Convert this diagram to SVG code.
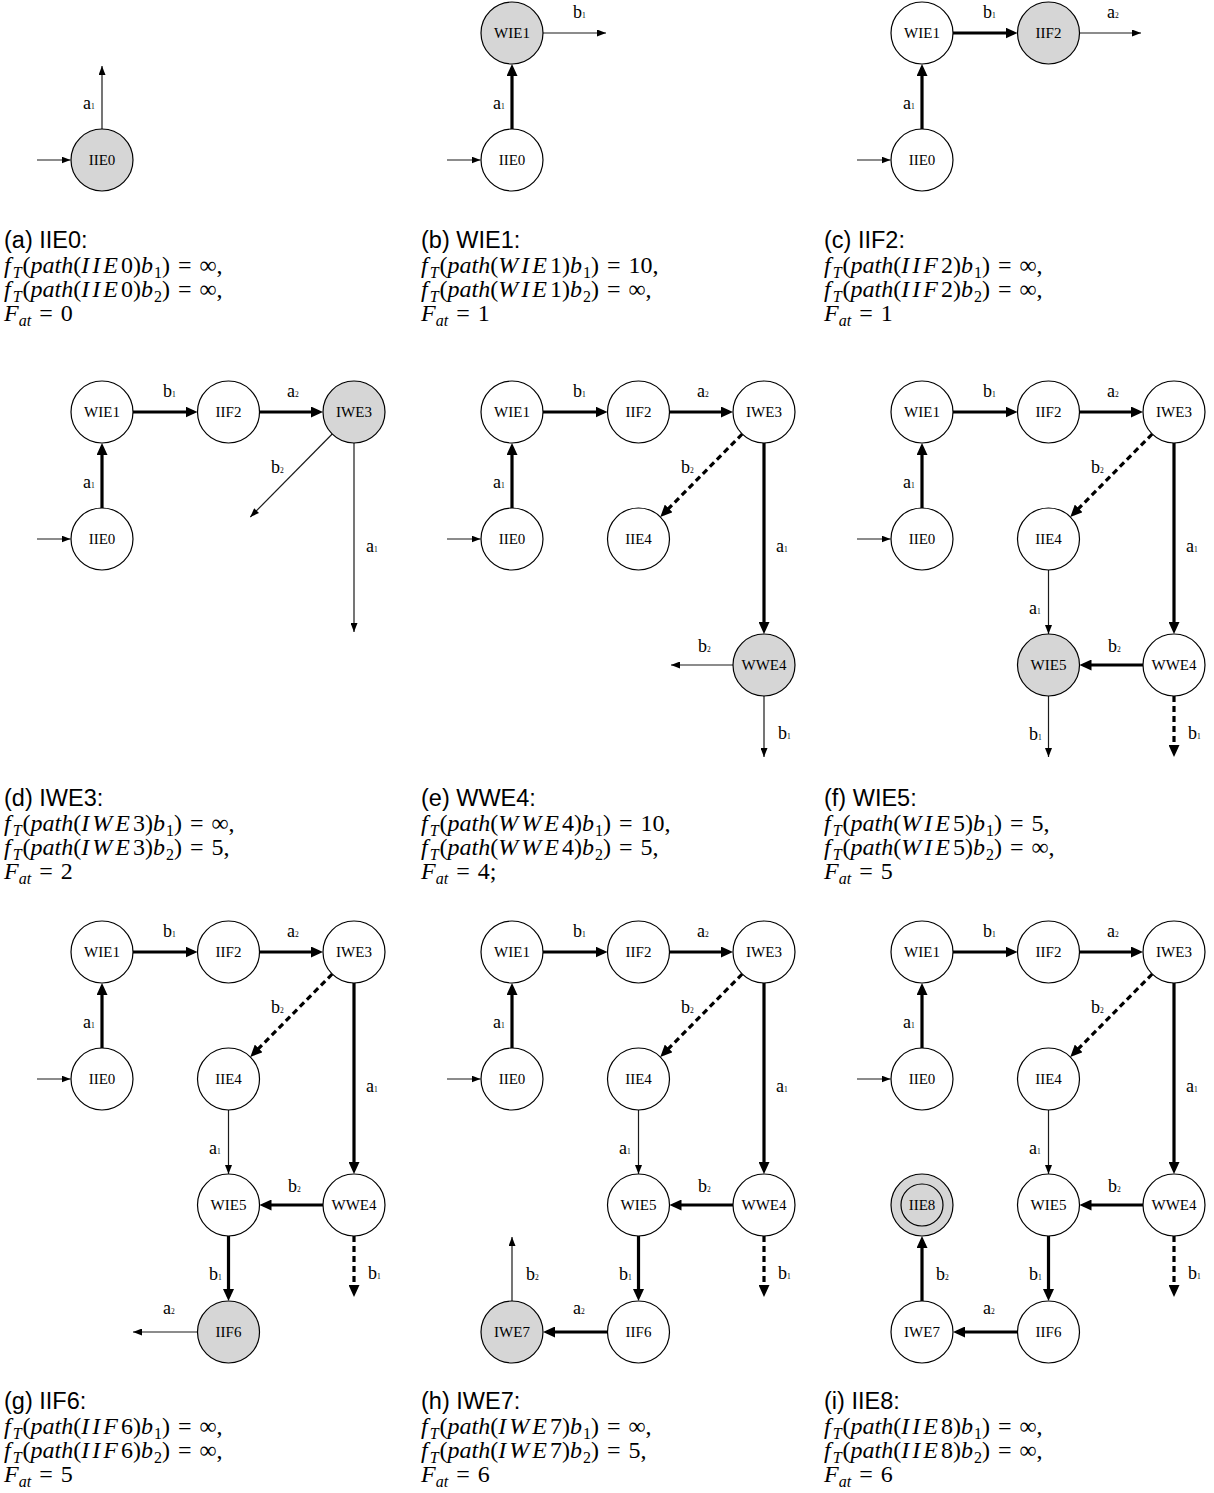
<svg xmlns="http://www.w3.org/2000/svg" width="1214" height="1493" viewBox="0 0 1214 1493">
<style>
.nd circle{fill:#fff;stroke:#000;stroke-width:1.2}
.nd.cur circle{fill:#d6d6d6}
.nt{font-family:"Liberation Serif",serif;font-size:15px;text-anchor:middle;fill:#000}
.e{fill:none;stroke:#1a1a1a;stroke-width:1.2;marker-end:url(#ah)}
.E{fill:none;stroke:#000;stroke-width:3.2;marker-end:url(#ahT)}
.d{stroke-dasharray:6 4}
.lbl{font-family:"Liberation Serif",serif;font-size:18px;fill:#000}
.sub{font-size:7.5px}
.cap{font-family:"Liberation Sans",Arial,sans-serif;font-size:23.5px;fill:#000}
.m{font-family:"Liberation Serif",serif;font-size:24px;fill:#000}
.i{font-style:italic}
.s{font-size:16px}
.v{letter-spacing:3px}
</style>
<defs>
<marker id="ah" markerUnits="userSpaceOnUse" markerWidth="9" markerHeight="7" refX="9" refY="3.5" orient="auto"><path d="M0,0 L9,3.5 L0,7 z" fill="#000"/></marker>
<marker id="ahT" markerUnits="userSpaceOnUse" markerWidth="12" markerHeight="11" refX="8" refY="5.5" orient="auto"><path d="M0,0 L12,5.5 L0,11 z" fill="#000"/></marker>
</defs>

<!-- Panel a -->
<g id="panel-a">
<g transform="translate(0,0)">
<g id="a-connectors">
<path class="e" d="M37,160 H70.5"/>
<path class="e" d="M102,129 V66"/>
<text class="lbl" x="83" y="109">a<tspan class="sub">1</tspan></text>
</g>
<g id="a-IIE0" class="nd cur"><circle cx="102" cy="160" r="31"/><text class="nt" x="102" y="165">IIE0</text></g>
</g>
<g id="a-caption">
<text class="cap" x="4" y="248">(a) IIE0:</text>
<text class="m" x="4" y="273"><tspan class="i">f</tspan><tspan class="i s" dx="2" dy="5">T</tspan><tspan dx="1" dy="-5">(</tspan><tspan class="i">path</tspan>(<tspan class="i v">IIE</tspan>0)<tspan class="i">b</tspan><tspan class="s" dx="1" dy="5">1</tspan><tspan dy="-5">)</tspan> <tspan dx="2">=</tspan> <tspan dx="2">∞,</tspan></text>
<text class="m" x="4" y="297"><tspan class="i">f</tspan><tspan class="i s" dx="2" dy="5">T</tspan><tspan dx="1" dy="-5">(</tspan><tspan class="i">path</tspan>(<tspan class="i v">IIE</tspan>0)<tspan class="i">b</tspan><tspan class="s" dx="1" dy="5">2</tspan><tspan dy="-5">)</tspan> <tspan dx="2">=</tspan> <tspan dx="2">∞,</tspan></text>
<text class="m" x="4" y="321"><tspan class="i">F</tspan><tspan class="i s" dy="5">at</tspan><tspan dy="-5"> </tspan><tspan dx="2">=</tspan> <tspan dx="2">0</tspan></text>
</g>
</g>

<!-- Panel b -->
<g id="panel-b">
<g transform="translate(410,0)">
<g id="b-connectors">
<path class="e" d="M37,160 H70.5"/>
<path class="E" d="M102,129 V68"/>
<path class="e" d="M133,33 H196"/>
<text class="lbl" x="83" y="109">a<tspan class="sub">1</tspan></text>
<text class="lbl" x="163" y="18">b<tspan class="sub">1</tspan></text>
</g>
<g id="b-IIE0" class="nd"><circle cx="102" cy="160" r="31"/><text class="nt" x="102" y="165">IIE0</text></g>
<g id="b-WIE1" class="nd cur"><circle cx="102" cy="33" r="31"/><text class="nt" x="102" y="38">WIE1</text></g>
</g>
<g id="b-caption">
<text class="cap" x="421" y="248">(b) WIE1:</text>
<text class="m" x="421" y="273"><tspan class="i">f</tspan><tspan class="i s" dx="2" dy="5">T</tspan><tspan dx="1" dy="-5">(</tspan><tspan class="i">path</tspan>(<tspan class="i v">WIE</tspan>1)<tspan class="i">b</tspan><tspan class="s" dx="1" dy="5">1</tspan><tspan dy="-5">)</tspan> <tspan dx="2">=</tspan> <tspan dx="2">10,</tspan></text>
<text class="m" x="421" y="297"><tspan class="i">f</tspan><tspan class="i s" dx="2" dy="5">T</tspan><tspan dx="1" dy="-5">(</tspan><tspan class="i">path</tspan>(<tspan class="i v">WIE</tspan>1)<tspan class="i">b</tspan><tspan class="s" dx="1" dy="5">2</tspan><tspan dy="-5">)</tspan> <tspan dx="2">=</tspan> <tspan dx="2">∞,</tspan></text>
<text class="m" x="421" y="321"><tspan class="i">F</tspan><tspan class="i s" dy="5">at</tspan><tspan dy="-5"> </tspan><tspan dx="2">=</tspan> <tspan dx="2">1</tspan></text>
</g>
</g>

<!-- Panel c -->
<g id="panel-c">
<g transform="translate(820,0)">
<g id="c-connectors">
<path class="e" d="M37,160 H70.5"/>
<path class="E" d="M102,129 V68"/>
<path class="E" d="M133,33 H193.5"/>
<path class="e" d="M259.5,33 H321"/>
<text class="lbl" x="83" y="109">a<tspan class="sub">1</tspan></text>
<text class="lbl" x="163" y="18">b<tspan class="sub">1</tspan></text>
<text class="lbl" x="287" y="18">a<tspan class="sub">2</tspan></text>
</g>
<g id="c-IIE0" class="nd"><circle cx="102" cy="160" r="31"/><text class="nt" x="102" y="165">IIE0</text></g>
<g id="c-WIE1" class="nd"><circle cx="102" cy="33" r="31"/><text class="nt" x="102" y="38">WIE1</text></g>
<g id="c-IIF2" class="nd cur"><circle cx="228.5" cy="33" r="31"/><text class="nt" x="228.5" y="38">IIF2</text></g>
</g>
<g id="c-caption">
<text class="cap" x="824" y="248">(c) IIF2:</text>
<text class="m" x="824" y="273"><tspan class="i">f</tspan><tspan class="i s" dx="2" dy="5">T</tspan><tspan dx="1" dy="-5">(</tspan><tspan class="i">path</tspan>(<tspan class="i v">IIF</tspan>2)<tspan class="i">b</tspan><tspan class="s" dx="1" dy="5">1</tspan><tspan dy="-5">)</tspan> <tspan dx="2">=</tspan> <tspan dx="2">∞,</tspan></text>
<text class="m" x="824" y="297"><tspan class="i">f</tspan><tspan class="i s" dx="2" dy="5">T</tspan><tspan dx="1" dy="-5">(</tspan><tspan class="i">path</tspan>(<tspan class="i v">IIF</tspan>2)<tspan class="i">b</tspan><tspan class="s" dx="1" dy="5">2</tspan><tspan dy="-5">)</tspan> <tspan dx="2">=</tspan> <tspan dx="2">∞,</tspan></text>
<text class="m" x="824" y="321"><tspan class="i">F</tspan><tspan class="i s" dy="5">at</tspan><tspan dy="-5"> </tspan><tspan dx="2">=</tspan> <tspan dx="2">1</tspan></text>
</g>
</g>

<!-- Panel d -->
<g id="panel-d">
<g transform="translate(0,379)">
<g id="d-connectors">
<path class="e" d="M37,160 H70.5"/>
<path class="E" d="M102,129 V68"/>
<path class="E" d="M133,33 H193.5"/>
<path class="E" d="M259.5,33 H319"/>
<path class="e" d="M332.2,55 L250.3,138"/>
<path class="e" d="M354,64 V253"/>
<text class="lbl" x="83" y="109">a<tspan class="sub">1</tspan></text>
<text class="lbl" x="163" y="18">b<tspan class="sub">1</tspan></text>
<text class="lbl" x="287" y="18">a<tspan class="sub">2</tspan></text>
<text class="lbl" x="271" y="94">b<tspan class="sub">2</tspan></text>
<text class="lbl" x="366" y="173">a<tspan class="sub">1</tspan></text>
</g>
<g id="d-IIE0" class="nd"><circle cx="102" cy="160" r="31"/><text class="nt" x="102" y="165">IIE0</text></g>
<g id="d-WIE1" class="nd"><circle cx="102" cy="33" r="31"/><text class="nt" x="102" y="38">WIE1</text></g>
<g id="d-IIF2" class="nd"><circle cx="228.5" cy="33" r="31"/><text class="nt" x="228.5" y="38">IIF2</text></g>
<g id="d-IWE3" class="nd cur"><circle cx="354" cy="33" r="31"/><text class="nt" x="354" y="38">IWE3</text></g>
</g>
<g id="d-caption">
<text class="cap" x="4" y="806">(d) IWE3:</text>
<text class="m" x="4" y="831"><tspan class="i">f</tspan><tspan class="i s" dx="2" dy="5">T</tspan><tspan dx="1" dy="-5">(</tspan><tspan class="i">path</tspan>(<tspan class="i v">IWE</tspan>3)<tspan class="i">b</tspan><tspan class="s" dx="1" dy="5">1</tspan><tspan dy="-5">)</tspan> <tspan dx="2">=</tspan> <tspan dx="2">∞,</tspan></text>
<text class="m" x="4" y="855"><tspan class="i">f</tspan><tspan class="i s" dx="2" dy="5">T</tspan><tspan dx="1" dy="-5">(</tspan><tspan class="i">path</tspan>(<tspan class="i v">IWE</tspan>3)<tspan class="i">b</tspan><tspan class="s" dx="1" dy="5">2</tspan><tspan dy="-5">)</tspan> <tspan dx="2">=</tspan> <tspan dx="2">5,</tspan></text>
<text class="m" x="4" y="879"><tspan class="i">F</tspan><tspan class="i s" dy="5">at</tspan><tspan dy="-5"> </tspan><tspan dx="2">=</tspan> <tspan dx="2">2</tspan></text>
</g>
</g>

<!-- Panel e -->
<g id="panel-e">
<g transform="translate(410,379)">
<g id="e-connectors">
<path class="e" d="M37,160 H70.5"/>
<path class="E" d="M102,129 V68"/>
<path class="E" d="M133,33 H193.5"/>
<path class="E" d="M259.5,33 H319"/>
<path class="E d" d="M332.2,55 L253.1,135.1"/>
<path class="E" d="M354,64 V251"/>
<path class="e" d="M323,286 H261"/>
<path class="e" d="M354,317 V378"/>
<text class="lbl" x="83" y="109">a<tspan class="sub">1</tspan></text>
<text class="lbl" x="163" y="18">b<tspan class="sub">1</tspan></text>
<text class="lbl" x="287" y="18">a<tspan class="sub">2</tspan></text>
<text class="lbl" x="271" y="94">b<tspan class="sub">2</tspan></text>
<text class="lbl" x="366" y="173">a<tspan class="sub">1</tspan></text>
<text class="lbl" x="288" y="273">b<tspan class="sub">2</tspan></text>
<text class="lbl" x="368" y="360">b<tspan class="sub">1</tspan></text>
</g>
<g id="e-IIE0" class="nd"><circle cx="102" cy="160" r="31"/><text class="nt" x="102" y="165">IIE0</text></g>
<g id="e-WIE1" class="nd"><circle cx="102" cy="33" r="31"/><text class="nt" x="102" y="38">WIE1</text></g>
<g id="e-IIF2" class="nd"><circle cx="228.5" cy="33" r="31"/><text class="nt" x="228.5" y="38">IIF2</text></g>
<g id="e-IWE3" class="nd"><circle cx="354" cy="33" r="31"/><text class="nt" x="354" y="38">IWE3</text></g>
<g id="e-IIE4" class="nd"><circle cx="228.5" cy="160" r="31"/><text class="nt" x="228.5" y="165">IIE4</text></g>
<g id="e-WWE4" class="nd cur"><circle cx="354" cy="286" r="31"/><text class="nt" x="354" y="291">WWE4</text></g>
</g>
<g id="e-caption">
<text class="cap" x="421" y="806">(e) WWE4:</text>
<text class="m" x="421" y="831"><tspan class="i">f</tspan><tspan class="i s" dx="2" dy="5">T</tspan><tspan dx="1" dy="-5">(</tspan><tspan class="i">path</tspan>(<tspan class="i v">WWE</tspan>4)<tspan class="i">b</tspan><tspan class="s" dx="1" dy="5">1</tspan><tspan dy="-5">)</tspan> <tspan dx="2">=</tspan> <tspan dx="2">10,</tspan></text>
<text class="m" x="421" y="855"><tspan class="i">f</tspan><tspan class="i s" dx="2" dy="5">T</tspan><tspan dx="1" dy="-5">(</tspan><tspan class="i">path</tspan>(<tspan class="i v">WWE</tspan>4)<tspan class="i">b</tspan><tspan class="s" dx="1" dy="5">2</tspan><tspan dy="-5">)</tspan> <tspan dx="2">=</tspan> <tspan dx="2">5,</tspan></text>
<text class="m" x="421" y="879"><tspan class="i">F</tspan><tspan class="i s" dy="5">at</tspan><tspan dy="-5"> </tspan><tspan dx="2">=</tspan> <tspan dx="2">4;</tspan></text>
</g>
</g>

<!-- Panel f -->
<g id="panel-f">
<g transform="translate(820,379)">
<g id="f-connectors">
<path class="e" d="M37,160 H70.5"/>
<path class="E" d="M102,129 V68"/>
<path class="E" d="M133,33 H193.5"/>
<path class="E" d="M259.5,33 H319"/>
<path class="E d" d="M332.2,55 L253.1,135.1"/>
<path class="E" d="M354,64 V251"/>
<path class="e" d="M228.5,191 V255"/>
<path class="E" d="M323,286 H263.5"/>
<path class="E d" d="M354,317 V374"/>
<path class="e" d="M228.5,317 V378"/>
<text class="lbl" x="83" y="109">a<tspan class="sub">1</tspan></text>
<text class="lbl" x="163" y="18">b<tspan class="sub">1</tspan></text>
<text class="lbl" x="287" y="18">a<tspan class="sub">2</tspan></text>
<text class="lbl" x="271" y="94">b<tspan class="sub">2</tspan></text>
<text class="lbl" x="366" y="173">a<tspan class="sub">1</tspan></text>
<text class="lbl" x="209" y="235">a<tspan class="sub">1</tspan></text>
<text class="lbl" x="288" y="273">b<tspan class="sub">2</tspan></text>
<text class="lbl" x="368" y="360">b<tspan class="sub">1</tspan></text>
<text class="lbl" x="209" y="361">b<tspan class="sub">1</tspan></text>
</g>
<g id="f-IIE0" class="nd"><circle cx="102" cy="160" r="31"/><text class="nt" x="102" y="165">IIE0</text></g>
<g id="f-WIE1" class="nd"><circle cx="102" cy="33" r="31"/><text class="nt" x="102" y="38">WIE1</text></g>
<g id="f-IIF2" class="nd"><circle cx="228.5" cy="33" r="31"/><text class="nt" x="228.5" y="38">IIF2</text></g>
<g id="f-IWE3" class="nd"><circle cx="354" cy="33" r="31"/><text class="nt" x="354" y="38">IWE3</text></g>
<g id="f-IIE4" class="nd"><circle cx="228.5" cy="160" r="31"/><text class="nt" x="228.5" y="165">IIE4</text></g>
<g id="f-WWE4" class="nd"><circle cx="354" cy="286" r="31"/><text class="nt" x="354" y="291">WWE4</text></g>
<g id="f-WIE5" class="nd cur"><circle cx="228.5" cy="286" r="31"/><text class="nt" x="228.5" y="291">WIE5</text></g>
</g>
<g id="f-caption">
<text class="cap" x="824" y="806">(f) WIE5:</text>
<text class="m" x="824" y="831"><tspan class="i">f</tspan><tspan class="i s" dx="2" dy="5">T</tspan><tspan dx="1" dy="-5">(</tspan><tspan class="i">path</tspan>(<tspan class="i v">WIE</tspan>5)<tspan class="i">b</tspan><tspan class="s" dx="1" dy="5">1</tspan><tspan dy="-5">)</tspan> <tspan dx="2">=</tspan> <tspan dx="2">5,</tspan></text>
<text class="m" x="824" y="855"><tspan class="i">f</tspan><tspan class="i s" dx="2" dy="5">T</tspan><tspan dx="1" dy="-5">(</tspan><tspan class="i">path</tspan>(<tspan class="i v">WIE</tspan>5)<tspan class="i">b</tspan><tspan class="s" dx="1" dy="5">2</tspan><tspan dy="-5">)</tspan> <tspan dx="2">=</tspan> <tspan dx="2">∞,</tspan></text>
<text class="m" x="824" y="879"><tspan class="i">F</tspan><tspan class="i s" dy="5">at</tspan><tspan dy="-5"> </tspan><tspan dx="2">=</tspan> <tspan dx="2">5</tspan></text>
</g>
</g>

<!-- Panel g -->
<g id="panel-g">
<g transform="translate(0,919)">
<g id="g-connectors">
<path class="e" d="M37,160 H70.5"/>
<path class="E" d="M102,129 V68"/>
<path class="E" d="M133,33 H193.5"/>
<path class="E" d="M259.5,33 H319"/>
<path class="E d" d="M332.2,55 L253.1,135.1"/>
<path class="E" d="M354,64 V251"/>
<path class="e" d="M228.5,191 V255"/>
<path class="E" d="M323,286 H263.5"/>
<path class="E d" d="M354,317 V374"/>
<path class="E" d="M228.5,317 V378"/>
<path class="e" d="M197.5,413 H133"/>
<text class="lbl" x="83" y="109">a<tspan class="sub">1</tspan></text>
<text class="lbl" x="163" y="18">b<tspan class="sub">1</tspan></text>
<text class="lbl" x="287" y="18">a<tspan class="sub">2</tspan></text>
<text class="lbl" x="271" y="94">b<tspan class="sub">2</tspan></text>
<text class="lbl" x="366" y="173">a<tspan class="sub">1</tspan></text>
<text class="lbl" x="209" y="235">a<tspan class="sub">1</tspan></text>
<text class="lbl" x="288" y="273">b<tspan class="sub">2</tspan></text>
<text class="lbl" x="368" y="360">b<tspan class="sub">1</tspan></text>
<text class="lbl" x="209" y="361">b<tspan class="sub">1</tspan></text>
<text class="lbl" x="163" y="395">a<tspan class="sub">2</tspan></text>
</g>
<g id="g-IIE0" class="nd"><circle cx="102" cy="160" r="31"/><text class="nt" x="102" y="165">IIE0</text></g>
<g id="g-WIE1" class="nd"><circle cx="102" cy="33" r="31"/><text class="nt" x="102" y="38">WIE1</text></g>
<g id="g-IIF2" class="nd"><circle cx="228.5" cy="33" r="31"/><text class="nt" x="228.5" y="38">IIF2</text></g>
<g id="g-IWE3" class="nd"><circle cx="354" cy="33" r="31"/><text class="nt" x="354" y="38">IWE3</text></g>
<g id="g-IIE4" class="nd"><circle cx="228.5" cy="160" r="31"/><text class="nt" x="228.5" y="165">IIE4</text></g>
<g id="g-WWE4" class="nd"><circle cx="354" cy="286" r="31"/><text class="nt" x="354" y="291">WWE4</text></g>
<g id="g-WIE5" class="nd"><circle cx="228.5" cy="286" r="31"/><text class="nt" x="228.5" y="291">WIE5</text></g>
<g id="g-IIF6" class="nd cur"><circle cx="228.5" cy="413" r="31"/><text class="nt" x="228.5" y="418">IIF6</text></g>
</g>
<g id="g-caption">
<text class="cap" x="4" y="1409">(g) IIF6:</text>
<text class="m" x="4" y="1434"><tspan class="i">f</tspan><tspan class="i s" dx="2" dy="5">T</tspan><tspan dx="1" dy="-5">(</tspan><tspan class="i">path</tspan>(<tspan class="i v">IIF</tspan>6)<tspan class="i">b</tspan><tspan class="s" dx="1" dy="5">1</tspan><tspan dy="-5">)</tspan> <tspan dx="2">=</tspan> <tspan dx="2">∞,</tspan></text>
<text class="m" x="4" y="1458"><tspan class="i">f</tspan><tspan class="i s" dx="2" dy="5">T</tspan><tspan dx="1" dy="-5">(</tspan><tspan class="i">path</tspan>(<tspan class="i v">IIF</tspan>6)<tspan class="i">b</tspan><tspan class="s" dx="1" dy="5">2</tspan><tspan dy="-5">)</tspan> <tspan dx="2">=</tspan> <tspan dx="2">∞,</tspan></text>
<text class="m" x="4" y="1482"><tspan class="i">F</tspan><tspan class="i s" dy="5">at</tspan><tspan dy="-5"> </tspan><tspan dx="2">=</tspan> <tspan dx="2">5</tspan></text>
</g>
</g>

<!-- Panel h -->
<g id="panel-h">
<g transform="translate(410,919)">
<g id="h-connectors">
<path class="e" d="M37,160 H70.5"/>
<path class="E" d="M102,129 V68"/>
<path class="E" d="M133,33 H193.5"/>
<path class="E" d="M259.5,33 H319"/>
<path class="E d" d="M332.2,55 L253.1,135.1"/>
<path class="E" d="M354,64 V251"/>
<path class="e" d="M228.5,191 V255"/>
<path class="E" d="M323,286 H263.5"/>
<path class="E d" d="M354,317 V374"/>
<path class="E" d="M228.5,317 V378"/>
<path class="E" d="M197.5,413 H137"/>
<path class="e" d="M102,382 V318"/>
<text class="lbl" x="83" y="109">a<tspan class="sub">1</tspan></text>
<text class="lbl" x="163" y="18">b<tspan class="sub">1</tspan></text>
<text class="lbl" x="287" y="18">a<tspan class="sub">2</tspan></text>
<text class="lbl" x="271" y="94">b<tspan class="sub">2</tspan></text>
<text class="lbl" x="366" y="173">a<tspan class="sub">1</tspan></text>
<text class="lbl" x="209" y="235">a<tspan class="sub">1</tspan></text>
<text class="lbl" x="288" y="273">b<tspan class="sub">2</tspan></text>
<text class="lbl" x="368" y="360">b<tspan class="sub">1</tspan></text>
<text class="lbl" x="209" y="361">b<tspan class="sub">1</tspan></text>
<text class="lbl" x="163" y="395">a<tspan class="sub">2</tspan></text>
<text class="lbl" x="116" y="361">b<tspan class="sub">2</tspan></text>
</g>
<g id="h-IIE0" class="nd"><circle cx="102" cy="160" r="31"/><text class="nt" x="102" y="165">IIE0</text></g>
<g id="h-WIE1" class="nd"><circle cx="102" cy="33" r="31"/><text class="nt" x="102" y="38">WIE1</text></g>
<g id="h-IIF2" class="nd"><circle cx="228.5" cy="33" r="31"/><text class="nt" x="228.5" y="38">IIF2</text></g>
<g id="h-IWE3" class="nd"><circle cx="354" cy="33" r="31"/><text class="nt" x="354" y="38">IWE3</text></g>
<g id="h-IIE4" class="nd"><circle cx="228.5" cy="160" r="31"/><text class="nt" x="228.5" y="165">IIE4</text></g>
<g id="h-WWE4" class="nd"><circle cx="354" cy="286" r="31"/><text class="nt" x="354" y="291">WWE4</text></g>
<g id="h-WIE5" class="nd"><circle cx="228.5" cy="286" r="31"/><text class="nt" x="228.5" y="291">WIE5</text></g>
<g id="h-IIF6" class="nd"><circle cx="228.5" cy="413" r="31"/><text class="nt" x="228.5" y="418">IIF6</text></g>
<g id="h-IWE7" class="nd cur"><circle cx="102" cy="413" r="31"/><text class="nt" x="102" y="418">IWE7</text></g>
</g>
<g id="h-caption">
<text class="cap" x="421" y="1409">(h) IWE7:</text>
<text class="m" x="421" y="1434"><tspan class="i">f</tspan><tspan class="i s" dx="2" dy="5">T</tspan><tspan dx="1" dy="-5">(</tspan><tspan class="i">path</tspan>(<tspan class="i v">IWE</tspan>7)<tspan class="i">b</tspan><tspan class="s" dx="1" dy="5">1</tspan><tspan dy="-5">)</tspan> <tspan dx="2">=</tspan> <tspan dx="2">∞,</tspan></text>
<text class="m" x="421" y="1458"><tspan class="i">f</tspan><tspan class="i s" dx="2" dy="5">T</tspan><tspan dx="1" dy="-5">(</tspan><tspan class="i">path</tspan>(<tspan class="i v">IWE</tspan>7)<tspan class="i">b</tspan><tspan class="s" dx="1" dy="5">2</tspan><tspan dy="-5">)</tspan> <tspan dx="2">=</tspan> <tspan dx="2">5,</tspan></text>
<text class="m" x="421" y="1482"><tspan class="i">F</tspan><tspan class="i s" dy="5">at</tspan><tspan dy="-5"> </tspan><tspan dx="2">=</tspan> <tspan dx="2">6</tspan></text>
</g>
</g>

<!-- Panel i -->
<g id="panel-i">
<g transform="translate(820,919)">
<g id="i-connectors">
<path class="e" d="M37,160 H70.5"/>
<path class="E" d="M102,129 V68"/>
<path class="E" d="M133,33 H193.5"/>
<path class="E" d="M259.5,33 H319"/>
<path class="E d" d="M332.2,55 L253.1,135.1"/>
<path class="E" d="M354,64 V251"/>
<path class="e" d="M228.5,191 V255"/>
<path class="E" d="M323,286 H263.5"/>
<path class="E d" d="M354,317 V374"/>
<path class="E" d="M228.5,317 V378"/>
<path class="E" d="M197.5,413 H137"/>
<path class="E" d="M102,382 V321"/>
<text class="lbl" x="83" y="109">a<tspan class="sub">1</tspan></text>
<text class="lbl" x="163" y="18">b<tspan class="sub">1</tspan></text>
<text class="lbl" x="287" y="18">a<tspan class="sub">2</tspan></text>
<text class="lbl" x="271" y="94">b<tspan class="sub">2</tspan></text>
<text class="lbl" x="366" y="173">a<tspan class="sub">1</tspan></text>
<text class="lbl" x="209" y="235">a<tspan class="sub">1</tspan></text>
<text class="lbl" x="288" y="273">b<tspan class="sub">2</tspan></text>
<text class="lbl" x="368" y="360">b<tspan class="sub">1</tspan></text>
<text class="lbl" x="209" y="361">b<tspan class="sub">1</tspan></text>
<text class="lbl" x="163" y="395">a<tspan class="sub">2</tspan></text>
<text class="lbl" x="116" y="361">b<tspan class="sub">2</tspan></text>
</g>
<g id="i-IIE0" class="nd"><circle cx="102" cy="160" r="31"/><text class="nt" x="102" y="165">IIE0</text></g>
<g id="i-WIE1" class="nd"><circle cx="102" cy="33" r="31"/><text class="nt" x="102" y="38">WIE1</text></g>
<g id="i-IIF2" class="nd"><circle cx="228.5" cy="33" r="31"/><text class="nt" x="228.5" y="38">IIF2</text></g>
<g id="i-IWE3" class="nd"><circle cx="354" cy="33" r="31"/><text class="nt" x="354" y="38">IWE3</text></g>
<g id="i-IIE4" class="nd"><circle cx="228.5" cy="160" r="31"/><text class="nt" x="228.5" y="165">IIE4</text></g>
<g id="i-WWE4" class="nd"><circle cx="354" cy="286" r="31"/><text class="nt" x="354" y="291">WWE4</text></g>
<g id="i-WIE5" class="nd"><circle cx="228.5" cy="286" r="31"/><text class="nt" x="228.5" y="291">WIE5</text></g>
<g id="i-IIF6" class="nd"><circle cx="228.5" cy="413" r="31"/><text class="nt" x="228.5" y="418">IIF6</text></g>
<g id="i-IWE7" class="nd"><circle cx="102" cy="413" r="31"/><text class="nt" x="102" y="418">IWE7</text></g>
<g id="i-IIE8" class="nd cur"><circle cx="102" cy="286" r="31"/><circle cx="102" cy="286" r="21"/><text class="nt" x="102" y="291">IIE8</text></g>
</g>
<g id="i-caption">
<text class="cap" x="824" y="1409">(i) IIE8:</text>
<text class="m" x="824" y="1434"><tspan class="i">f</tspan><tspan class="i s" dx="2" dy="5">T</tspan><tspan dx="1" dy="-5">(</tspan><tspan class="i">path</tspan>(<tspan class="i v">IIE</tspan>8)<tspan class="i">b</tspan><tspan class="s" dx="1" dy="5">1</tspan><tspan dy="-5">)</tspan> <tspan dx="2">=</tspan> <tspan dx="2">∞,</tspan></text>
<text class="m" x="824" y="1458"><tspan class="i">f</tspan><tspan class="i s" dx="2" dy="5">T</tspan><tspan dx="1" dy="-5">(</tspan><tspan class="i">path</tspan>(<tspan class="i v">IIE</tspan>8)<tspan class="i">b</tspan><tspan class="s" dx="1" dy="5">2</tspan><tspan dy="-5">)</tspan> <tspan dx="2">=</tspan> <tspan dx="2">∞,</tspan></text>
<text class="m" x="824" y="1482"><tspan class="i">F</tspan><tspan class="i s" dy="5">at</tspan><tspan dy="-5"> </tspan><tspan dx="2">=</tspan> <tspan dx="2">6</tspan></text>
</g>
</g>
</svg>
